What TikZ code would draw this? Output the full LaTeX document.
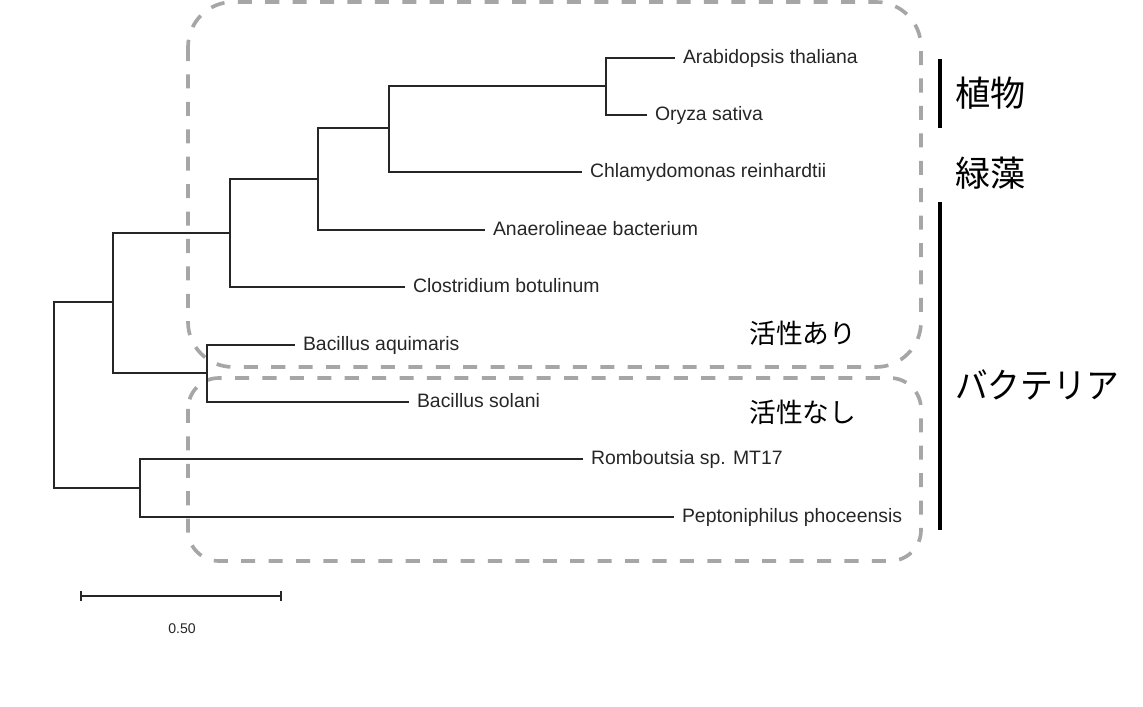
\documentclass[tikz,border=0pt]{standalone}
\usepackage{fontspec}
\setmainfont{Liberation Sans}
\newfontfamily\jpfont{Noto Sans CJK JP}
\usetikzlibrary{arrows.meta}

\begin{document}
\begin{tikzpicture}[x=0.025cm, y=-0.025cm,
    branch/.style={line width=1.1pt, black!85},
    leaf/.style={anchor=west, inner xsep=5.5pt, inner ysep=0pt,
      font=\fontsize{13.8}{16}\selectfont, text height=0.72em, text depth=0pt, text=black!85},
    groupbox/.style={black!35, line width=2.6pt, dash pattern=on 10pt off 9.5pt},
    grouplabel/.style={anchor=west, inner sep=0pt, font=\jpfont\fontsize{25}{30}\selectfont},
    activity/.style={anchor=west, inner sep=0pt, font=\jpfont\fontsize{19}{23}\selectfont},
    bar/.style={line width=2.2pt, black}]
  \useasboundingbox (0,0) rectangle (1143,707);

  % Activity groups (drawn first)
  \draw[groupbox, rounded corners=32pt] (188,2) rectangle (921,367);
  \draw[groupbox, rounded corners=22pt] (188,378) rectangle (921,561);
  \node[activity] (act) at (749,333) {活性あり};
  \node[activity] (inact) at (749,412) {活性なし};

  % Internal nodes of the tree
  \coordinate (root) at (54,395);
  \coordinate (nA) at (113,302);
  \coordinate (nB) at (230,233);
  \coordinate (nC) at (318,179);
  \coordinate (nD) at (389,128);
  \coordinate (nE) at (606,86);
  \coordinate (nBac) at (207,373);
  \coordinate (nP) at (140,488);

  % Leaves
  \node[leaf] (arab) at (675,58) {Arabidopsis thaliana};
  \node[leaf] (oryza) at (647,115) {Oryza sativa};
  \node[leaf] (chlamy) at (582,172) {Chlamydomonas reinhardtii};
  \node[leaf] (anaero) at (485,230) {Anaerolineae bacterium};
  \node[leaf] (clos) at (405,287) {Clostridium botulinum};
  \node[leaf] (baqui) at (295,345) {Bacillus aquimaris};
  \node[leaf] (bsol) at (409,402) {Bacillus solani};
  \node[leaf] (romb) at (583,459) {Romboutsia sp. MT17};
  \node[leaf] (pepto) at (674,517) {Peptoniphilus phoceensis};

  % Branches
  \draw[branch] (root) |- (nA);
  \draw[branch] (root) |- (nP);
  \draw[branch] (nA) |- (nB);
  \draw[branch] (nA) |- (nBac);
  \draw[branch] (nB) |- (nC);
  \draw[branch] (nB) |- (clos.west);
  \draw[branch] (nC) |- (nD);
  \draw[branch] (nC) |- (anaero.west);
  \draw[branch] (nD) |- (nE);
  \draw[branch] (nD) |- (chlamy.west);
  \draw[branch] (nE) |- (arab.west);
  \draw[branch] (nE) |- (oryza.west);
  \draw[branch] (nBac) |- (baqui.west);
  \draw[branch] (nBac) |- (bsol.west);
  \draw[branch] (nP) |- (romb.west);
  \draw[branch] (nP) |- (pepto.west);

  % Scale bar
  \coordinate (sbl) at (80,596);
  \coordinate (sbr) at (282,596);
  \draw[branch, {Bar[width=7pt]}-{Bar[width=7pt]}] (sbl) -- (sbr);
  \node[font=\fontsize{10}{12}\selectfont, text=black!85] (sblabel) at (182,629) {0.50};

  % Taxon bars and labels
  \draw[bar] (940,59) -- (940,128);
  \draw[bar] (940,202) -- (940,530);
  \node[grouplabel] (plant) at (955,93) {植物};
  \node[grouplabel] (alga) at (955,173) {緑藻};
  \node[grouplabel] (bact) at (955,385) {\scalebox{0.93}[1]{バクテリア}};
\end{tikzpicture}
\end{document}
